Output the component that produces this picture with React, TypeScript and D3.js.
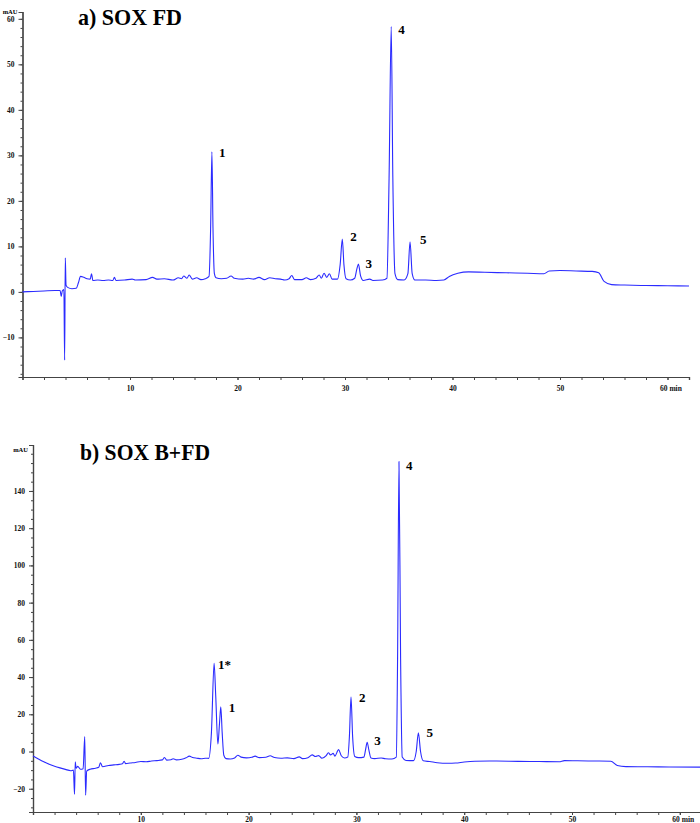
import React, { useEffect, useRef } from "react";
import * as d3 from "d3";

// panel a) SOX FD  -- retention time (min) / absorbance (mAU)
const timeA = [0, 1, 2, 3, 3.5, 3.6, 3.7, 3.85, 3.92, 3.98, 4.05, 4.2, 4.6, 5.0, 5.2, 5.4, 5.7, 6.0, 6.3, 6.42, 6.55, 7.0, 7.5, 8.0, 8.4, 8.55, 8.7, 9.5, 10.2, 10.5, 11.5, 12.1, 12.5, 13.2, 14.0, 14.5, 14.8, 15.0, 15.3, 15.5, 15.8, 16.2, 16.6, 17.0, 17.35, 17.5, 17.62, 17.72, 17.85, 18.0, 18.5, 19.0, 19.4, 19.7, 20.5, 21.0, 21.5, 22.0, 22.5, 23.0, 23.5, 24.0, 24.4, 24.8, 25.05, 25.3, 26.0, 26.4, 26.8, 27.3, 27.6, 27.8, 28.05, 28.3, 28.55, 28.8, 29.3, 29.55, 29.75, 29.9, 30.1, 30.5, 30.9, 31.1, 31.25, 31.45, 31.7, 32.3, 32.6, 33.5, 33.9, 34.1, 34.3, 34.45, 34.65, 34.9, 35.5, 35.85, 36.05, 36.25, 36.5, 37.5, 38.5, 39.2, 39.7, 40.5, 41.5, 43, 45, 47, 48.5, 49.0, 50, 51.5, 53.0, 53.6, 54.1, 54.8, 56, 58, 60, 62];
const signalA = [0.0, 0.1, 0.2, 0.3, 0.3, -1.0, 0.2, 0.5, -15.0, 7.5, 1.5, 1.0, 0.7, 0.8, 2.0, 3.4, 3.2, 2.9, 2.8, 4.0, 2.5, 2.6, 2.5, 2.6, 2.5, 3.2, 2.5, 2.6, 2.8, 2.6, 2.7, 3.2, 2.8, 2.9, 2.6, 3.1, 2.9, 3.5, 3.0, 3.7, 2.8, 3.1, 2.7, 2.9, 3.4, 14, 30.8, 14, 4, 3.1, 2.9, 3.0, 3.5, 3.0, 2.8, 3.0, 2.8, 3.2, 2.7, 3.1, 2.9, 2.8, 2.6, 2.9, 3.6, 2.7, 2.7, 3.1, 2.7, 3.0, 3.7, 3.0, 4.1, 3.2, 4.0, 2.8, 2.8, 6, 11.6, 6, 2.9, 2.6, 3.0, 5, 6.1, 3.5, 2.5, 2.8, 2.5, 2.6, 3.0, 25, 58.3, 25, 4, 2.7, 2.6, 4, 11, 4, 2.6, 2.6, 2.5, 2.6, 3.4, 4.1, 4.4, 4.3, 4.2, 4.1, 4.0, 4.6, 4.7, 4.6, 4.5, 4.2, 2.3, 1.6, 1.5, 1.4, 1.35, 1.3];

// panel b) SOX B+FD
const timeB = [0, 0.5, 1.0, 1.5, 2.0, 2.5, 3.0, 3.5, 3.75, 3.85, 3.92, 4.0, 4.15, 4.4, 4.65, 4.8, 4.88, 4.98, 5.3, 5.8, 6.1, 6.25, 6.45, 7.0, 7.5, 8.0, 8.3, 8.45, 8.6, 9.0, 9.5, 10.0, 10.5, 11.0, 11.5, 12.0, 12.2, 12.4, 12.8, 13.0, 13.3, 13.8, 14.2, 14.5, 14.8, 15.2, 15.6, 16.0, 16.3, 16.55, 16.8, 16.95, 17.15, 17.3, 17.42, 17.55, 17.7, 17.9, 18.3, 18.7, 19.0, 19.3, 19.8, 20.3, 20.6, 21.0, 21.6, 22.0, 22.4, 23.0, 23.6, 24.2, 24.7, 25.0, 25.5, 25.9, 26.2, 26.5, 26.8, 27.2, 27.4, 27.6, 27.85, 28.0, 28.35, 28.6, 28.9, 29.2, 29.35, 29.5, 29.65, 29.85, 30.2, 30.7, 30.85, 31.0, 31.15, 31.35, 31.7, 32.3, 32.7, 33.3, 33.7, 33.82, 33.95, 34.1, 34.25, 34.6, 35.3, 35.55, 35.75, 35.95, 36.2, 36.8, 37.5, 38.5, 39.2, 40.0, 41, 43, 45, 47, 48.8, 49.3, 50.5, 52, 53.6, 54.2, 55, 57, 59, 62];
const signalB = [-2.4, -4.0, -5.5, -6.8, -7.9, -8.8, -9.6, -10.3, -10.0, -23, -5.5, -9.0, -8.0, -9.5, -9.2, 8.0, -23.5, -10.5, -9.5, -9.0, -8.5, -6.0, -8.2, -7.5, -7.2, -6.9, -6.6, -5.2, -6.5, -6.2, -5.9, -5.4, -5.5, -5.1, -4.9, -4.5, -3.2, -4.6, -4.4, -3.9, -4.5, -4.2, -3.4, -2.5, -3.2, -3.6, -3.9, -3.6, -3.7, 10, 47.4, 30, 4, 15, 24, 10, -2, -3.8, -4.0, -3.5, -2.0, -3.0, -3.4, -3.1, -2.5, -3.3, -3.1, -2.3, -3.2, -3.6, -3.4, -3.8, -2.9, -3.8, -3.3, -1.8, -2.7, -2.2, -3.6, -2.2, -0.7, -1.8, -1.0, -2.5, 1.0, -2.3, -3.5, -3.0, 8, 29.3, 8, -2.7, -3.3, -3.0, 1, 5, 1, -3.5, -3.8, -3.5, -3.9, -4.0, -3.0, 50, 155.8, 50, -3, -4.8, -4.9, 0, 10, 0, -5.0, -5.4, -6.0, -6.3, -6.2, -5.6, -5.2, -5.1, -5.3, -5.4, -5.5, -4.9, -5.0, -5.1, -5.2, -7.5, -8.1, -8.2, -8.3, -8.4];

const xLabels = [10, 20, 30, 40, 50, 60];
const yLabelsA = [-10, 0, 10, 20, 30, 40, 50, 60];
const yLabelsB = [-20, 0, 20, 40, 60, 80, 100, 120, 140];

const peaksA = ["1", "2", "3", "4", "5"];
const peakTimesA = [17.62, 29.75, 31.25, 34.3, 36.05];
const peakValsA = [30.8, 11.6, 6.1, 58.3, 11];

const peaksB = ["1*", "1", "2", "3", "4", "5"];
const peakTimesB = [16.8, 17.42, 29.5, 31.0, 33.95, 35.75];
const peakValsB = [47.4, 24, 29.3, 5, 155.8, 10];

const lineColor = "#2b2bff";
const serif = "'Liberation Serif', 'Times New Roman', serif";

const panels = [
    {
        title: "a) SOX FD", titleX: 78, titleY: 25, titleLen: 104,
        t: timeA, v: signalA, peaks: peaksA, pt: peakTimesA, pv: peakValsA,
        xRange: [22.5, 22.5 + 62 * 10.75], yDomain: [-18.7, 61.5], yRange: [377, 12],
        yLabels: yLabelsA, yMinor: 2, yMinorFrom: -18, xPad: 6, mauY: 14,
        labelOffsets: [[7, 5], [8, 2], [7, 4], [7, 7], [10, 2]]
    },
    {
        title: "b) SOX B+FD", titleX: 80, titleY: 460, titleLen: 130,
        t: timeB, v: signalB, peaks: peaksB, pt: peakTimesB, pv: peakValsB,
        xRange: [33, 33 + 62 * 10.78], yDomain: [-32.5, 164.7], yRange: [812, 445],
        yLabels: yLabelsB, yMinor: 5, yMinorFrom: -30, xPad: 2, mauY: 452,
        labelOffsets: [[4, 6], [8, 5], [8, 5], [7, 3], [7, 8], [8, 4]]
    }
];

const App = () => {
    const ref = useRef<SVGSVGElement>(null);

    useEffect(() => {
        if (!ref.current) return;
        const svg = d3.select(ref.current);
        svg.selectAll("*").remove();

        panels.forEach((p) => {
            const x = d3.scaleLinear().domain([0, 62]).range(p.xRange);
            const y = d3.scaleLinear().domain(p.yDomain).range(p.yRange);
            const g = svg.append("g");
            const x0 = p.xRange[0];
            const yBottom = p.yRange[0];

            // minor ticks
            const yMinorTicks = d3.range(p.yMinorFrom, p.yDomain[1], p.yMinor);
            g.append("g")
                .attr("transform", `translate(${x0},0)`)
                .call(d3.axisLeft(y).tickValues(yMinorTicks).tickSize(2).tickFormat(() => ""));
            g.append("g")
                .attr("transform", `translate(0,${yBottom})`)
                .call(d3.axisBottom(x).tickValues(d3.range(2, 62, 2)).tickSize(3).tickFormat(() => ""));

            // major ticks + labels
            g.append("g")
                .attr("transform", `translate(${x0},0)`)
                .call(d3.axisLeft(y).tickValues(p.yLabels).tickSize(4).tickPadding(4).tickFormat(d3.format("d")));
            const xAx = g.append("g")
                .attr("transform", `translate(0,${yBottom})`)
                .call(d3.axisBottom(x).tickValues(xLabels).tickSize(3).tickPadding(p.xPad)
                    .tickFormat((d) => (d === 60 ? "60 min" : String(d))));

            xAx.selectAll("text").filter((d) => d === 60).attr("text-anchor", "start").attr("dx", -8);

            g.selectAll(".domain").attr("stroke", "#444").attr("stroke-width", 1.2);
            g.selectAll(".tick line").attr("stroke", "#444");
            g.selectAll(".tick text")
                .attr("font-family", serif)
                .attr("font-weight", "bold")
                .attr("font-size", 7.5)
                .attr("fill", "#111");

            g.append("text")
                .attr("x", x0 - 5)
                .attr("y", p.mauY)
                .attr("text-anchor", "end")
                .attr("font-family", serif)
                .attr("font-weight", "bold")
                .attr("font-size", 6.5)
                .text("mAU");

            // trace
            const pts = p.t.map((t, i) => [t, p.v[i]] as [number, number]);
            const line = d3.line<[number, number]>()
                .x((d) => x(d[0]))
                .y((d) => y(d[1]))
                .curve(d3.curveMonotoneX);
            g.append("path")
                .datum(pts)
                .attr("fill", "none")
                .attr("stroke", lineColor)
                .attr("stroke-width", 1.1)
                .attr("stroke-linejoin", "round")
                .attr("d", line);

            // peak labels
            p.peaks.forEach((lab, i) => {
                const off = p.labelOffsets[i];
                g.append("text")
                    .attr("x", x(p.pt[i]) + off[0])
                    .attr("y", y(p.pv[i]) + off[1])
                    .attr("font-family", serif)
                    .attr("font-weight", "bold")
                    .attr("font-size", 13)
                    .text(lab);
            });

            g.append("text")
                .attr("x", p.titleX)
                .attr("y", p.titleY)
                .attr("font-family", serif)
                .attr("font-weight", "bold")
                .attr("font-size", 24)
                .attr("textLength", p.titleLen)
                .attr("lengthAdjust", "spacingAndGlyphs")
                .text(p.title);
        });
    }, [ref]);

    return (
        <svg ref={ref} width={700} height={823}
             style={{position: "absolute", left: 0, top: 0, background: "#fff"}}></svg>
    );
};

export default App;
